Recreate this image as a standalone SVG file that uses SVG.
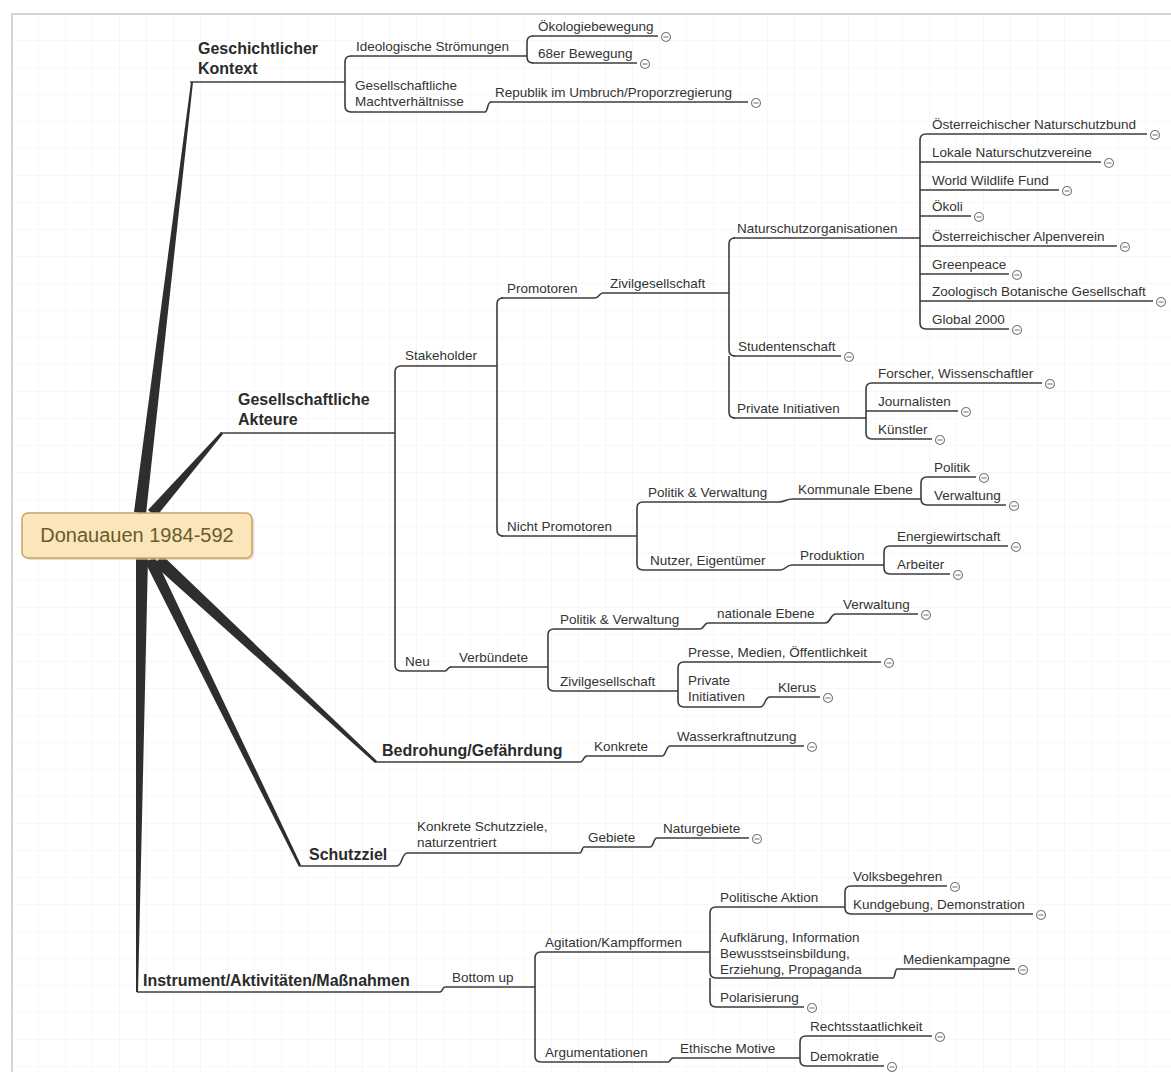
<svg xmlns="http://www.w3.org/2000/svg" width="1171" height="1072" viewBox="0 0 1171 1072">
<style>
.t{font-family:"Liberation Sans",Arial,sans-serif;font-size:13.5px;fill:#333}
.b{font-family:"Liberation Sans",Arial,sans-serif;font-size:16px;font-weight:bold;fill:#2b2b2b}
.c{font-family:"Liberation Sans",Arial,sans-serif;font-size:20px;fill:#6a5a2c}
.ul{stroke:#3c3c3c;stroke-width:1.6;fill:none}
.e{stroke:#3c3c3c;stroke-width:1.6;fill:none}
.thick{fill:#2e2e2e}
.ic{fill:#fff;stroke:#7a7a7a;stroke-width:1.1}
.icm{stroke:#7a7a7a;stroke-width:1.1}
</style>
<defs>
<pattern id="grid" width="27" height="27" patternUnits="userSpaceOnUse" x="12" y="14">
<path d="M27 0V27M0 27H27" stroke="#efefef" stroke-width="1" fill="none"/>
</pattern>
<g id="icon"><circle class="ic" cx="0" cy="0" r="4.5"/><line class="icm" x1="-2.5" y1="0" x2="2.5" y2="0"/></g>
</defs>
<rect x="0" y="0" width="1171" height="1072" fill="#fff"/>
<rect x="12" y="14" width="1165" height="1065" fill="url(#grid)" stroke="#c8c8c8" stroke-width="1.5"/>

<g id="connectors">
<polygon class="thick" points="134,512 191,82 193,82 146,514"/>
<polygon class="thick" points="148,510 221,432 223,434 156,517"/>
<polygon class="thick" points="162,555 377,761 375,763 154,565"/>
<polygon class="thick" points="155,557 301,865 299,867 145,562"/>
<polygon class="thick" points="136,558 136,992 138,992 148,558"/>
<path class="e" d="M345,82V62Q345,56 351,56M345,82V106Q345,112 351,112"/>
<path class="e" d="M515,56H527V42Q527,36 533,36M527,56V57Q527,63 533,63"/>
<path class="e" d="M485,112C488,112 487,102 491,102"/>
<path class="e" d="M395,433V372Q395,366 401,366M395,433V665Q395,671 401,671"/>
<path class="e" d="M495,366H497V304Q497,298 503,298M497,366V530Q497,536 503,536"/>
<path class="e" d="M595,298C599,298 599,293 603,293"/>
<path class="e" d="M727,293H729V244Q729,238 735,238M729,293V350Q729,356 735,356M729,356V412Q729,418 735,418"/>
<path class="e" d="M915,238H920V140Q920,134 926,134M920,238V323Q920,329 926,329M920,162H926M920,190H926M920,216H926M920,246H926M920,274H926M920,301H926"/>
<path class="e" d="M860,418H866V389Q866,383 872,383M866,411H872M866,418V433Q866,439 872,439"/>
<path class="e" d="M632,536H637V508Q637,502 643,502M637,536V564Q637,570 643,570"/>
<path class="e" d="M778,502C786,502 785,499 793,499"/>
<path class="e" d="M914,499H921V483Q921,477 927,477M921,499Q921,505 927,505"/>
<path class="e" d="M780,570C786,570 786,565 792,565"/>
<path class="e" d="M875,565H884V552Q884,546 890,546M884,565V568Q884,574 890,574"/>
<path class="e" d="M445,671C448,671 447,667 451,667"/>
<path class="e" d="M545,667H548V635Q548,629 554,629M548,667V685Q548,691 554,691"/>
<path class="e" d="M700,629C704,629 704,623 708,623"/>
<path class="e" d="M825,623C831,623 830,614 836,614"/>
<path class="e" d="M672,691H678V668Q678,662 684,662M678,691V701Q678,707 684,707"/>
<path class="e" d="M760,707C766,707 764,697 770,697"/>
<path class="e" d="M580,762C584,762 583,756 587,756"/>
<path class="e" d="M662,756C666,756 666,746 670,746"/>
<path class="e" d="M397,866C402,866 402,853 407,853"/>
<path class="e" d="M580,853C582,853 582,847 584,847"/>
<path class="e" d="M650,847C654,847 653,838 657,838"/>
<path class="e" d="M440,992C443,992 442,987 445,987"/>
<path class="e" d="M530,987H535V958Q535,952 541,952M535,987V1056Q535,1062 541,1062"/>
<path class="e" d="M700,952H710V913Q710,907 716,907M710,952V972Q710,978 716,978M710,978V1001Q710,1007 716,1007"/>
<path class="e" d="M835,907H845V892Q845,886 851,886M845,907V908Q845,914 851,914"/>
<path class="e" d="M893,978C895,978 895,969 897,969"/>
<path class="e" d="M668,1062C670,1062 671,1058 673,1058"/>
<path class="e" d="M795,1058H800V1042Q800,1036 806,1036M800,1058V1060Q800,1066 806,1066"/>
</g>

<g id="center">
<rect x="24" y="515" width="230" height="45" rx="6" fill="#d8c9a6" opacity="0.6"/>
<rect x="22" y="513" width="230" height="45" rx="6" fill="#fbe6bb" stroke="#c8a465" stroke-width="1.5"/>
<text class="c" x="137" y="542" text-anchor="middle">Donauauen 1984-592</text>
</g>

<g id="n-geschichtlicher-kontext"><text class="b" x="198" y="54">Geschichtlicher</text><text class="b" x="198" y="74">Kontext</text><line class="ul" x1="190" y1="82" x2="345" y2="82"/></g>
<g id="n-ideologische"><text class="t" x="356" y="51">Ideologische Strömungen</text><line class="ul" x1="350" y1="56" x2="515" y2="56"/></g>
<g id="n-oekologiebewegung"><text class="t" x="538" y="31">Ökologiebewegung</text><line class="ul" x1="532" y1="36" x2="658" y2="36"/><use href="#icon" x="666" y="37"/></g>
<g id="n-68er"><text class="t" x="538" y="58">68er Bewegung</text><line class="ul" x1="532" y1="63" x2="637" y2="63"/><use href="#icon" x="645" y="64"/></g>
<g id="n-machtverhaeltnisse"><text class="t" x="355" y="90">Gesellschaftliche</text><text class="t" x="355" y="106">Machtverhältnisse</text><line class="ul" x1="350" y1="112" x2="485" y2="112"/></g>
<g id="n-republik"><text class="t" x="495" y="97">Republik im Umbruch/Proporzregierung</text><line class="ul" x1="490" y1="102" x2="748" y2="102"/><use href="#icon" x="756" y="103"/></g>

<g id="n-akteure"><text class="b" x="238" y="405">Gesellschaftliche</text><text class="b" x="238" y="425">Akteure</text><line class="ul" x1="220" y1="433" x2="395" y2="433"/></g>
<g id="n-stakeholder"><text class="t" x="405" y="360">Stakeholder</text><line class="ul" x1="401" y1="366" x2="495" y2="366"/></g>
<g id="n-promotoren"><text class="t" x="507" y="293">Promotoren</text><line class="ul" x1="501" y1="298" x2="595" y2="298"/></g>
<g id="n-zivilgesellschaft1"><text class="t" x="610" y="288">Zivilgesellschaft</text><line class="ul" x1="603" y1="293" x2="727" y2="293"/></g>
<g id="n-naturschutzorganisationen"><text class="t" x="737" y="233">Naturschutzorganisationen</text><line class="ul" x1="733" y1="238" x2="915" y2="238"/></g>
<g id="n-oenb"><text class="t" x="932" y="129">Österreichischer Naturschutzbund</text><line class="ul" x1="926" y1="134" x2="1147" y2="134"/><use href="#icon" x="1155" y="135"/></g>
<g id="n-lokale"><text class="t" x="932" y="157">Lokale Naturschutzvereine</text><line class="ul" x1="926" y1="162" x2="1101" y2="162"/><use href="#icon" x="1109" y="163"/></g>
<g id="n-wwf"><text class="t" x="932" y="185">World Wildlife Fund</text><line class="ul" x1="926" y1="190" x2="1059" y2="190"/><use href="#icon" x="1067" y="191"/></g>
<g id="n-oekoli"><text class="t" x="932" y="211">Ökoli</text><line class="ul" x1="926" y1="216" x2="971" y2="216"/><use href="#icon" x="979" y="217"/></g>
<g id="n-alpenverein"><text class="t" x="932" y="241">Österreichischer Alpenverein</text><line class="ul" x1="926" y1="246" x2="1117" y2="246"/><use href="#icon" x="1125" y="247"/></g>
<g id="n-greenpeace"><text class="t" x="932" y="269">Greenpeace</text><line class="ul" x1="926" y1="274" x2="1009" y2="274"/><use href="#icon" x="1017" y="275"/></g>
<g id="n-zbg"><text class="t" x="932" y="296">Zoologisch Botanische Gesellschaft</text><line class="ul" x1="926" y1="301" x2="1153" y2="301"/><use href="#icon" x="1161" y="302"/></g>
<g id="n-global2000"><text class="t" x="932" y="324">Global 2000</text><line class="ul" x1="926" y1="329" x2="1009" y2="329"/><use href="#icon" x="1017" y="330"/></g>
<g id="n-studentenschaft"><text class="t" x="738" y="351">Studentenschaft</text><line class="ul" x1="733" y1="356" x2="841" y2="356"/><use href="#icon" x="849" y="357"/></g>
<g id="n-private1"><text class="t" x="737" y="413">Private Initiativen</text><line class="ul" x1="733" y1="418" x2="860" y2="418"/></g>
<g id="n-forscher"><text class="t" x="878" y="378">Forscher, Wissenschaftler</text><line class="ul" x1="872" y1="383" x2="1042" y2="383"/><use href="#icon" x="1050" y="384"/></g>
<g id="n-journalisten"><text class="t" x="878" y="406">Journalisten</text><line class="ul" x1="872" y1="411" x2="958" y2="411"/><use href="#icon" x="966" y="412"/></g>
<g id="n-kuenstler"><text class="t" x="878" y="434">Künstler</text><line class="ul" x1="872" y1="439" x2="932" y2="439"/><use href="#icon" x="940" y="440"/></g>
<g id="n-nicht-promotoren"><text class="t" x="507" y="531">Nicht Promotoren</text><line class="ul" x1="501" y1="536" x2="632" y2="536"/></g>
<g id="n-pv1"><text class="t" x="648" y="497">Politik &amp; Verwaltung</text><line class="ul" x1="643" y1="502" x2="778" y2="502"/></g>
<g id="n-kommunale"><text class="t" x="798" y="494">Kommunale Ebene</text><line class="ul" x1="793" y1="499" x2="914" y2="499"/></g>
<g id="n-politik"><text class="t" x="934" y="472">Politik</text><line class="ul" x1="927" y1="477" x2="976" y2="477"/><use href="#icon" x="984" y="478"/></g>
<g id="n-verwaltung1"><text class="t" x="934" y="500">Verwaltung</text><line class="ul" x1="927" y1="505" x2="1006" y2="505"/><use href="#icon" x="1014" y="506"/></g>
<g id="n-nutzer"><text class="t" x="650" y="565">Nutzer, Eigentümer</text><line class="ul" x1="643" y1="570" x2="780" y2="570"/></g>
<g id="n-produktion"><text class="t" x="800" y="560">Produktion</text><line class="ul" x1="792" y1="565" x2="875" y2="565"/></g>
<g id="n-energie"><text class="t" x="897" y="541">Energiewirtschaft</text><line class="ul" x1="890" y1="546" x2="1008" y2="546"/><use href="#icon" x="1016" y="547"/></g>
<g id="n-arbeiter"><text class="t" x="897" y="569">Arbeiter</text><line class="ul" x1="890" y1="574" x2="950" y2="574"/><use href="#icon" x="958" y="575"/></g>
<g id="n-neu"><text class="t" x="405" y="666">Neu</text><line class="ul" x1="401" y1="671" x2="445" y2="671"/></g>
<g id="n-verbuendete"><text class="t" x="459" y="662">Verbündete</text><line class="ul" x1="450" y1="667" x2="545" y2="667"/></g>
<g id="n-pv2"><text class="t" x="560" y="624">Politik &amp; Verwaltung</text><line class="ul" x1="554" y1="629" x2="700" y2="629"/></g>
<g id="n-nationale"><text class="t" x="717" y="618">nationale Ebene</text><line class="ul" x1="708" y1="623" x2="825" y2="623"/></g>
<g id="n-verwaltung2"><text class="t" x="843" y="609">Verwaltung</text><line class="ul" x1="836" y1="614" x2="918" y2="614"/><use href="#icon" x="926" y="615"/></g>
<g id="n-zivilgesellschaft2"><text class="t" x="560" y="686">Zivilgesellschaft</text><line class="ul" x1="554" y1="691" x2="672" y2="691"/></g>
<g id="n-presse"><text class="t" x="688" y="657">Presse, Medien, Öffentlichkeit</text><line class="ul" x1="684" y1="662" x2="881" y2="662"/><use href="#icon" x="889" y="663"/></g>
<g id="n-private2"><text class="t" x="688" y="685">Private</text><text class="t" x="688" y="701">Initiativen</text><line class="ul" x1="684" y1="707" x2="760" y2="707"/></g>
<g id="n-klerus"><text class="t" x="778" y="692">Klerus</text><line class="ul" x1="770" y1="697" x2="820" y2="697"/><use href="#icon" x="828" y="698"/></g>

<g id="n-bedrohung"><text class="b" x="382" y="756">Bedrohung/Gefährdung</text><line class="ul" x1="375" y1="762" x2="580" y2="762"/></g>
<g id="n-konkrete"><text class="t" x="594" y="751">Konkrete</text><line class="ul" x1="587" y1="756" x2="662" y2="756"/></g>
<g id="n-wasserkraft"><text class="t" x="677" y="741">Wasserkraftnutzung</text><line class="ul" x1="670" y1="746" x2="804" y2="746"/><use href="#icon" x="812" y="747"/></g>

<g id="n-schutzziel"><text class="b" x="309" y="860">Schutzziel</text><line class="ul" x1="300" y1="866" x2="397" y2="866"/></g>
<g id="n-konkrete-schutzziele"><text class="t" x="417" y="831">Konkrete Schutzziele,</text><text class="t" x="417" y="847">naturzentriert</text><line class="ul" x1="407" y1="853" x2="580" y2="853"/></g>
<g id="n-gebiete"><text class="t" x="588" y="842">Gebiete</text><line class="ul" x1="584" y1="847" x2="650" y2="847"/></g>
<g id="n-naturgebiete"><text class="t" x="663" y="833">Naturgebiete</text><line class="ul" x1="657" y1="838" x2="749" y2="838"/><use href="#icon" x="757" y="839"/></g>

<g id="n-instrument"><text class="b" x="143" y="986">Instrument/Aktivitäten/Maßnahmen</text><line class="ul" x1="137" y1="992" x2="440" y2="992"/></g>
<g id="n-bottomup"><text class="t" x="452" y="982">Bottom up</text><line class="ul" x1="445" y1="987" x2="530" y2="987"/></g>
<g id="n-agitation"><text class="t" x="545" y="947">Agitation/Kampfformen</text><line class="ul" x1="541" y1="952" x2="700" y2="952"/></g>
<g id="n-politische-aktion"><text class="t" x="720" y="902">Politische Aktion</text><line class="ul" x1="716" y1="907" x2="835" y2="907"/></g>
<g id="n-volksbegehren"><text class="t" x="853" y="881">Volksbegehren</text><line class="ul" x1="851" y1="886" x2="947" y2="886"/><use href="#icon" x="955" y="887"/></g>
<g id="n-kundgebung"><text class="t" x="853" y="909">Kundgebung, Demonstration</text><line class="ul" x1="851" y1="914" x2="1033" y2="914"/><use href="#icon" x="1041" y="915"/></g>
<g id="n-aufklaerung"><text class="t" x="720" y="942">Aufklärung, Information</text><text class="t" x="720" y="958">Bewusstseinsbildung,</text><text class="t" x="720" y="974">Erziehung, Propaganda</text><line class="ul" x1="716" y1="978" x2="893" y2="978"/></g>
<g id="n-medienkampagne"><text class="t" x="903" y="964">Medienkampagne</text><line class="ul" x1="897" y1="969" x2="1015" y2="969"/><use href="#icon" x="1023" y="970"/></g>
<g id="n-polarisierung"><text class="t" x="720" y="1002">Polarisierung</text><line class="ul" x1="716" y1="1007" x2="804" y2="1007"/><use href="#icon" x="812" y="1008"/></g>
<g id="n-argumentationen"><text class="t" x="545" y="1057">Argumentationen</text><line class="ul" x1="541" y1="1062" x2="668" y2="1062"/></g>
<g id="n-ethische"><text class="t" x="680" y="1053">Ethische Motive</text><line class="ul" x1="673" y1="1058" x2="795" y2="1058"/></g>
<g id="n-rechtsstaatlichkeit"><text class="t" x="810" y="1031">Rechtsstaatlichkeit</text><line class="ul" x1="806" y1="1036" x2="932" y2="1036"/><use href="#icon" x="940" y="1037"/></g>
<g id="n-demokratie"><text class="t" x="810" y="1061">Demokratie</text><line class="ul" x1="806" y1="1066" x2="884" y2="1066"/><use href="#icon" x="892" y="1067"/></g>
</svg>
